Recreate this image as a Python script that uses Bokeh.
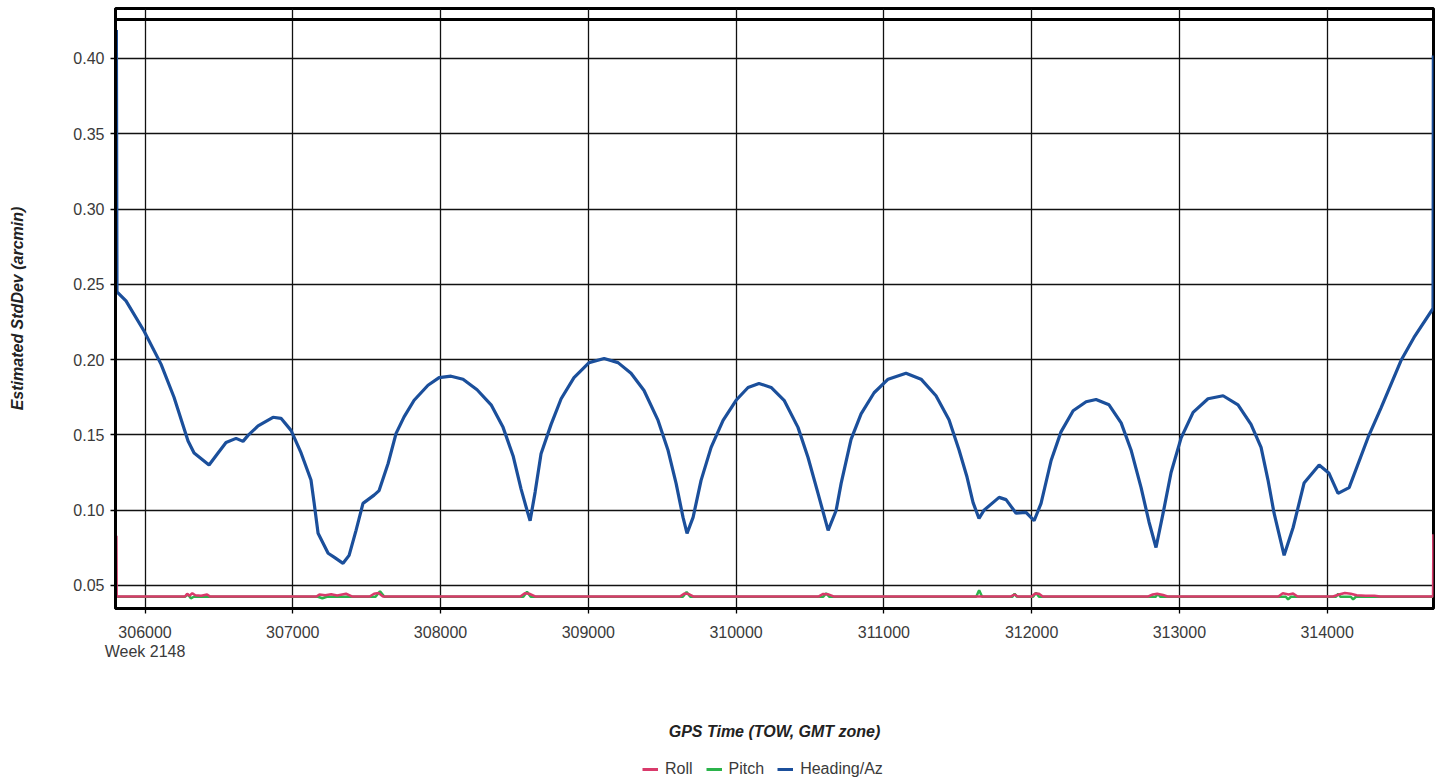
from bokeh.plotting import figure
from bokeh.layouts import column
from bokeh.models import (Range1d, FixedTicker, Span, Legend, LegendItem, LinearAxis,
                          NumeralTickFormatter)
from bokeh.embed import file_html
from bokeh.resources import INLINE

# ---- data ----
heading_t = [305806, 305810, 305871, 305993, 306108, 306196, 306291, 306332, 306433, 306494,
             306548, 306616, 306663, 306697, 306765, 306866, 306920, 306988, 307056, 307123,
             307144, 307171, 307239, 307279, 307340, 307381, 307428, 307475, 307550, 307584,
             307645, 307699, 307753, 307821, 307915, 307990, 308071,
             308152, 308247, 308342, 308423, 308491, 308545, 308585, 308606, 308640, 308680,
             308748, 308816, 308903, 309005, 309107, 309201, 309289, 309377, 309472, 309540,
             309594, 309641, 309668, 309709, 309763, 309831, 309912, 310000, 310081, 310155,
             310237, 310325, 310419, 310487, 310555, 310623, 310677, 310711, 310778, 310846,
             310934, 311029, 311150,
             311252, 311353, 311441, 311509, 311563, 311604, 311644, 311678, 311780, 311827,
             311895, 311962, 312017, 312064, 312132, 312199, 312281, 312369, 312436, 312524,
             312606, 312673, 312741, 312795, 312842, 312890, 312944, 313012, 313093, 313194,
             313296, 313397, 313485, 313553, 313600, 313641, 313709, 313770, 313844, 313946,
             314013, 314074, 314149, 314277, 314365, 314500, 314588, 314717, 314719]
heading_v = [0.419, 0.245, 0.239, 0.219, 0.197, 0.175, 0.146, 0.138, 0.130, 0.138,
             0.145, 0.1477, 0.1457, 0.1497, 0.156, 0.1617, 0.161, 0.153, 0.138, 0.120,
             0.105, 0.0847, 0.0714, 0.0688, 0.0647, 0.070, 0.0866, 0.1045, 0.110, 0.113,
             0.131, 0.151, 0.162, 0.173, 0.183, 0.188, 0.189,
             0.187, 0.180, 0.170, 0.155, 0.136, 0.114, 0.100, 0.093, 0.112, 0.1375,
             0.157, 0.174, 0.188, 0.198, 0.2007, 0.198, 0.191, 0.1795, 0.1596, 0.1396,
             0.1178, 0.0952, 0.0846, 0.0952, 0.1198, 0.1417, 0.1596, 0.173, 0.1815, 0.1842,
             0.1815, 0.173, 0.155, 0.135, 0.111, 0.0866, 0.0998, 0.1178, 0.147, 0.164,
             0.178, 0.187, 0.191,
             0.187, 0.176, 0.160, 0.140, 0.122, 0.105, 0.0945, 0.100, 0.1085, 0.107,
             0.098, 0.0986, 0.093, 0.1045, 0.133, 0.152, 0.166, 0.172, 0.1735, 0.170,
             0.158, 0.140, 0.115, 0.092, 0.0752, 0.098, 0.125, 0.148, 0.165, 0.174,
             0.176, 0.170, 0.157, 0.1417, 0.120, 0.098, 0.070, 0.0885, 0.118, 0.130,
             0.1245, 0.1112, 0.115, 0.1483, 0.168, 0.1994, 0.2147, 0.234, 0.402]

roll_t = [305806, 305808, 306270, 306285, 306300, 306320, 306340, 306380, 306420, 306440,
          307160, 307180, 307220, 307260, 307300, 307360, 307400,
          307520, 307550, 307580, 307610,
          308540, 308570, 308600, 308640,
          309620, 309650, 309680, 309710,
          310560, 310590, 310620, 310660,
          311860, 311885, 311905,
          312000, 312025, 312050, 312075,
          312790, 312820, 312850, 312890, 312920,
          313670, 313700, 313740, 313770, 313800,
          314040, 314080, 314120, 314160, 314200, 314260, 314320, 314360,
          314717, 314719]
roll_v = [0.083, 0.0427, 0.0427, 0.0445, 0.0432, 0.0448, 0.0435, 0.0432, 0.0440, 0.0427,
          0.0427, 0.0440, 0.0435, 0.0442, 0.0434, 0.0445, 0.0427,
          0.0427, 0.0445, 0.0450, 0.0427,
          0.0427, 0.0448, 0.0445, 0.0427,
          0.0427, 0.0446, 0.0443, 0.0427,
          0.0427, 0.0444, 0.0442, 0.0427,
          0.0427, 0.0440, 0.0427,
          0.0427, 0.0447, 0.0445, 0.0427,
          0.0427, 0.0440, 0.0445, 0.0437, 0.0427,
          0.0427, 0.0448, 0.0440, 0.0446, 0.0427,
          0.0427, 0.0440, 0.0450, 0.0445, 0.0435, 0.0432, 0.0432, 0.0427,
          0.0427, 0.084]

pitch_t = [305806, 306270, 306290, 306310, 306330,
           307170, 307200, 307230,
           307560, 307590, 307620,
           308560, 308585, 308610,
           309640, 309665, 309690,
           310590, 310610, 310630,
           311625, 311645, 311665,
           311870, 311885, 311900,
           312010, 312030, 312050,
           312840, 312855, 312870,
           313720, 313736, 313755,
           314060, 314075, 314090,
           314160, 314176, 314195, 314717]
pitch_v = [0.0425, 0.0425, 0.0440, 0.0415, 0.0425,
           0.0425, 0.0415, 0.0425,
           0.0425, 0.0462, 0.0425,
           0.0425, 0.0458, 0.0425,
           0.0425, 0.0456, 0.0425,
           0.0425, 0.0448, 0.0425,
           0.0425, 0.0468, 0.0425,
           0.0425, 0.0445, 0.0425,
           0.0425, 0.0452, 0.0425,
           0.0425, 0.0445, 0.0425,
           0.0425, 0.0408, 0.0425,
           0.0425, 0.0445, 0.0425,
           0.0425, 0.0408, 0.0425, 0.0425]

x_ticks = [306000, 307000, 308000, 309000, 310000, 311000, 312000, 313000, 314000]
y_ticks = [0.05, 0.10, 0.15, 0.20, 0.25, 0.30, 0.35, 0.40]
week_label = "Week 2148"
series_names = ["Roll", "Pitch", "Heading/Az"]
series_colors = ["#d93a6b", "#2bb34b", "#1b4f9b"]

FONT = "Liberation Sans"
FS = "16px"

p = figure(frame_width=1318, frame_height=600, output_backend="svg", toolbar_location=None,
           x_range=Range1d(305800, 314720), y_range=Range1d(0.0347, 0.4332),
           x_axis_location=None, y_axis_location="left",
           min_border_left=115, min_border_right=5, min_border_top=8, min_border_bottom=138)

p.outline_line_color = "black"
p.outline_line_width = 3
p.outline_line_alpha = 1

# grid
p.xgrid.ticker = FixedTicker(ticks=x_ticks)
p.ygrid.ticker = FixedTicker(ticks=y_ticks)
for g in (p.xgrid, p.ygrid):
    g.grid_line_color = "#111111"
    g.grid_line_width = 1.3
    g.grid_line_alpha = 1

# primary x axis (numbers)
xa = LinearAxis(ticker=FixedTicker(ticks=x_ticks), formatter=NumeralTickFormatter(format="0"))
# secondary x axis ("Week 2148" + title)
xb = LinearAxis(ticker=FixedTicker(ticks=[x_ticks[0]]),
                major_label_overrides={x_ticks[0]: week_label})
p.add_layout(xa, "below")
p.add_layout(xb, "below")

ya = p.yaxis[0]
ya.ticker = FixedTicker(ticks=y_ticks)
ya.formatter = NumeralTickFormatter(format="0.00")

for ax in (xa, xb, ya):
    ax.major_tick_out = 5
    ax.major_tick_in = 0
    ax.minor_tick_out = 0
    ax.minor_tick_in = 0
    ax.major_tick_line_color = "black"
    ax.major_tick_line_width = 1.3
    ax.axis_line_color = "black"
    ax.axis_line_width = 3
    ax.major_label_text_font = FONT
    ax.major_label_text_font_size = FS
    ax.major_label_text_color = "#3a3a3a"
    ax.axis_label_text_font = FONT
    ax.axis_label_text_font_style = "bold italic"
    ax.axis_label_text_font_size = FS
    ax.axis_label_text_color = "#222222"

xa.major_label_standoff = 12
xb.axis_line_color = None
xb.major_tick_line_color = None
xb.major_tick_out = 0
xb.major_label_standoff = 2
xb.axis_label = "GPS Time (TOW, GMT zone)"
xb.axis_label_standoff = 60

ya.major_label_standoff = 6
ya.axis_label = "Estimated StdDev (arcmin)"
ya.axis_label_standoff = 44

# top double line
p.add_layout(Span(location=0.4259, dimension="width", line_color="black", line_width=3))

# lines
r_pitch = p.line(pitch_t, pitch_v, line_color=series_colors[1], line_width=2.5)
r_roll = p.line(roll_t, roll_v, line_color=series_colors[0], line_width=2.5)
r_head = p.line(heading_t, heading_v, line_color=series_colors[2], line_width=3.2)

# legend strip (separate small figure below the plot); its proxy lines carry the
# first two points of each series, which lie outside this strip's own ranges
lg = figure(width=1438, height=32, output_backend="svg", toolbar_location=None,
            x_axis_location=None, y_axis_location=None,
            x_range=Range1d(0, 1), y_range=Range1d(0, 1),
            min_border_left=0, min_border_right=0, min_border_top=0, min_border_bottom=0)
lg.outline_line_color = None
lg.xgrid.visible = False
lg.ygrid.visible = False
lg_items = []
for name, col, ts, vs in zip(series_names, series_colors,
                             [roll_t, pitch_t, heading_t], [roll_v, pitch_v, heading_v]):
    rr = lg.line(x=ts[:2], y=vs[:2], line_color=col, line_width=3)
    lg_items.append(LegendItem(label=name, renderers=[rr]))

legend = Legend(items=lg_items,
                orientation="horizontal", location=(527, 0),
                label_text_font=FONT, label_text_font_size=FS, label_text_color="#3a3a3a",
                glyph_width=16, glyph_height=14, label_standoff=7, spacing=13,
                label_height=16,
                border_line_color=None, background_fill_alpha=0, padding=3, margin=0)
lg.add_layout(legend, "center")

layout = column(p, lg, spacing=0)
open("out.html", "w").write(file_html(layout, INLINE))
